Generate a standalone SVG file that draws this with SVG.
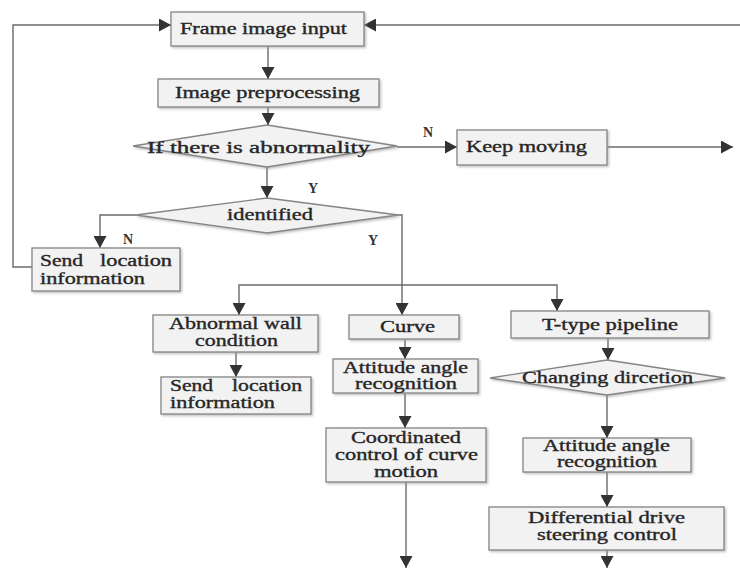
<svg xmlns="http://www.w3.org/2000/svg" width="740" height="569" viewBox="0 0 740 569">
<style>
.box{fill:#f2f2f2;stroke:#858585;stroke-width:1.3;filter:url(#sh)}
.t{font-family:"Liberation Serif","Times New Roman",serif;font-size:16px;fill:#262626;stroke:#262626;stroke-width:0.35;text-anchor:middle}
.l{font-family:"Liberation Serif","Times New Roman",serif;font-size:14px;font-weight:bold;fill:#333;text-anchor:middle}
.c{fill:none;stroke:#6a6a6a;stroke-width:1.4}
.a{marker-end:url(#ah)}
</style>
<defs>
<marker id="ah" viewBox="0 0 12 13" refX="12" refY="6.5" markerWidth="12" markerHeight="13" markerUnits="userSpaceOnUse" orient="auto">
<path d="M0,0 L12,6.5 L0,13 Z" fill="#333"/>
</marker>
<filter id="sh" x="-10%" y="-10%" width="130%" height="140%">
<feDropShadow dx="1.5" dy="1.5" stdDeviation="1" flood-color="#999" flood-opacity="0.6"/>
</filter>
</defs>
<rect width="740" height="569" fill="#fff"/>
<g id="connectors">
<path class="c a" d="M32,267 H13 V25 H171"/>
<path class="c a" d="M740,25 H364"/>
<path class="c a" d="M268,46 V79"/>
<path class="c a" d="M268,107 V125"/>
<path class="c a" d="M267,167 V198"/>
<path class="c a" d="M397,147 H457"/>
<path class="c a" d="M607,147 H733"/>
<path class="c a" d="M136,215 H100 V248"/>
<path class="c a" d="M398,215 H402 V315"/>
<path class="c a" d="M402,285 H239 V315"/>
<path class="c a" d="M402,285 H557 V311"/>
<path class="c a" d="M236,352 V377"/>
<path class="c a" d="M405,339 V359"/>
<path class="c a" d="M405,393 V428"/>
<path class="c a" d="M406,482 V568"/>
<path class="c a" d="M608,338 V360"/>
<path class="c a" d="M607,395 V438"/>
<path class="c a" d="M607,472 V507"/>
<path class="c a" d="M607,550 V568"/>
<text class="l" x="428" y="137">N</text>
<text class="l" x="313" y="193">Y</text>
<text class="l" x="128" y="244">N</text>
<text class="l" x="373" y="245">Y</text>
</g>
<g id="frame"><rect class="box" x="171" y="12" width="193" height="34"/><text class="t" x="263.5" y="34" textLength="167" lengthAdjust="spacingAndGlyphs">Frame image input</text></g>
<g id="preprocess"><rect class="box" x="158" y="79" width="221" height="28"/><text class="t" x="267.5" y="98" textLength="185" lengthAdjust="spacingAndGlyphs">Image preprocessing</text></g>
<g id="abnormality"><polygon class="box" points="133,146 267,125 397,146 267,167"/><text class="t" x="258.5" y="153" textLength="223" lengthAdjust="spacingAndGlyphs">If there is abnormality</text></g>
<g id="keep"><rect class="box" x="457" y="130" width="150" height="35"/><text class="t" x="526.5" y="152" textLength="121" lengthAdjust="spacingAndGlyphs">Keep moving</text></g>
<g id="identified"><polygon class="box" points="136,215 267,198 398,215 267,233"/><text class="t" x="270" y="220" textLength="86" lengthAdjust="spacingAndGlyphs">identified</text></g>
<g id="send1"><rect class="box" x="32" y="248" width="148" height="43"/>
<text class="t" y="266"><tspan x="40" text-anchor="start" textLength="43" lengthAdjust="spacingAndGlyphs">Send</tspan><tspan x="172" text-anchor="end" textLength="72" lengthAdjust="spacingAndGlyphs">location</tspan></text>
<text class="t" x="40" y="284" style="text-anchor:start" textLength="105" lengthAdjust="spacingAndGlyphs">information</text></g>
<g id="abnormal"><rect class="box" x="153" y="315" width="165" height="37"/>
<text class="t" x="235.5" y="329" textLength="133" lengthAdjust="spacingAndGlyphs">Abnormal wall</text>
<text class="t" x="236.5" y="346" textLength="83" lengthAdjust="spacingAndGlyphs">condition</text></g>
<g id="send2"><rect class="box" x="161" y="377" width="150" height="37"/>
<text class="t" y="391"><tspan x="170" text-anchor="start" textLength="43" lengthAdjust="spacingAndGlyphs">Send</tspan><tspan x="302" text-anchor="end" textLength="70" lengthAdjust="spacingAndGlyphs">location</tspan></text>
<text class="t" x="170" y="408" style="text-anchor:start" textLength="105" lengthAdjust="spacingAndGlyphs">information</text></g>
<g id="curve"><rect class="box" x="349" y="315" width="110" height="24"/><text class="t" x="407.5" y="332" textLength="55" lengthAdjust="spacingAndGlyphs">Curve</text></g>
<g id="attitude1"><rect class="box" x="333" y="359" width="145" height="34"/>
<text class="t" x="405.5" y="373" textLength="125" lengthAdjust="spacingAndGlyphs">Attitude angle</text>
<text class="t" x="406" y="389" textLength="102" lengthAdjust="spacingAndGlyphs">recognition</text></g>
<g id="coordinated"><rect class="box" x="326" y="428" width="160" height="54"/>
<text class="t" x="406" y="443" textLength="110" lengthAdjust="spacingAndGlyphs">Coordinated</text>
<text class="t" x="406.5" y="460" textLength="143" lengthAdjust="spacingAndGlyphs">control of curve</text>
<text class="t" x="406" y="477" textLength="64" lengthAdjust="spacingAndGlyphs">motion</text></g>
<g id="ttype"><rect class="box" x="511" y="311" width="198" height="27"/><text class="t" x="610" y="330" textLength="136" lengthAdjust="spacingAndGlyphs">T-type pipeline</text></g>
<g id="changing"><polygon class="box" points="490,378 607,360 725,378 607,395"/><text class="t" x="607.5" y="383" textLength="171" lengthAdjust="spacingAndGlyphs">Changing dircetion</text></g>
<g id="attitude2"><rect class="box" x="523" y="438" width="168" height="34"/>
<text class="t" x="606.5" y="451" textLength="127" lengthAdjust="spacingAndGlyphs">Attitude angle</text>
<text class="t" x="607" y="467" textLength="100" lengthAdjust="spacingAndGlyphs">recognition</text></g>
<g id="differential"><rect class="box" x="489" y="507" width="235" height="43"/>
<text class="t" x="606.5" y="523" textLength="157" lengthAdjust="spacingAndGlyphs">Differential drive</text>
<text class="t" x="607" y="540" textLength="140" lengthAdjust="spacingAndGlyphs">steering control</text></g>
</svg>
